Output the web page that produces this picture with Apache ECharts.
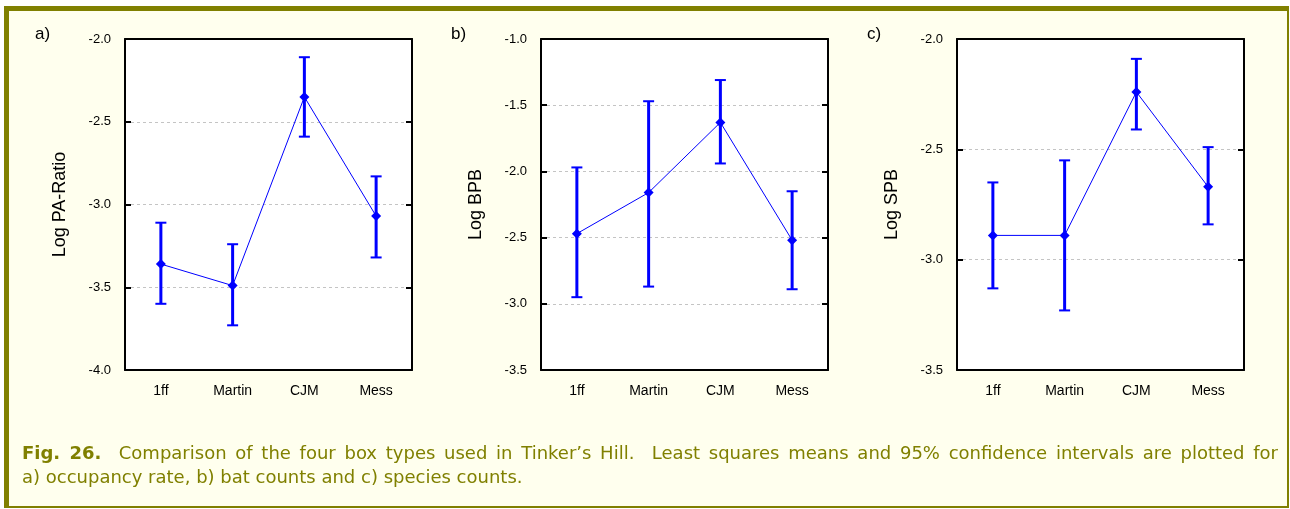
<!DOCTYPE html>
<html>
<head>
<meta charset="utf-8">
<script src="https://cdn.jsdelivr.net/npm/echarts@6/dist/echarts.min.js"></script>
<style>
  html, body { margin: 0; padding: 0; background: #fff; }
  #container { position: absolute; left: 0; top: 0; width: 1290px; height: 509px; }
  #caption {
    position: absolute; left: 22px; top: 441px; width: 1256px;
    font: 18px/24px "DejaVu Sans", Verdana, sans-serif; color: #808000;
    z-index: 2;
  }
  #caption .l1 { text-align: justify; text-align-last: justify; white-space: nowrap; }
  #caption .l1 { white-space: normal; }
  #caption b { font-weight: bold; }
</style>
</head>
<body>
<div id="container"></div>
<div id="caption">
  <div class="l1"><b>Fig. 26.</b>&nbsp; Comparison of the four box types used in Tinker’s Hill.&nbsp; Least squares means and 95% confidence intervals are plotted for</div>
  <div>a) occupancy rate, b) bat counts and c) species counts.</div>
</div>
<script>
// box types on the x axis
var cats = ['1ff', 'Martin', 'CJM', 'Mess'];

// a) occupancy rate
var aMean = [-3.36, -3.49, -2.35, -3.07];
var aLow  = [-3.60, -3.73, -2.59, -3.32];
var aHigh = [-3.11, -3.24, -2.11, -2.83];

// b) bat counts
var bMean = [-2.47, -2.16, -1.63, -2.52];
var bLow  = [-2.95, -2.87, -1.94, -2.89];
var bHigh = [-1.97, -1.47, -1.31, -2.15];

// c) species counts
var cMean = [-2.89, -2.89, -2.24, -2.67];
var cLow  = [-3.13, -3.23, -2.41, -2.84];
var cHigh = [-2.65, -2.55, -2.09, -2.49];

var panelNames = ['Log PA-Ratio', 'Log BPB', 'Log SPB'];
var panelTags = ['a)', 'b)', 'c)'];
var yMins = [-4.0, -3.5, -3.5];
var yMaxs = [-2.0, -1.0, -2.0];

var dom = document.getElementById('container');
var myChart = echarts.init(dom);

var FONT = '"Liberation Sans", Arial, sans-serif';
var BLUE = '#0000ff';
var OLIVE = '#808000';

var lefts = [125, 541, 957];

function errData(low, high) {
    return low.map(function (v, i) { return [i, v, high[i]]; });
}

// vertical 95% CI bar with caps
function renderErr(params, api) {
    var x = api.value(0);
    var lo = api.coord([x, api.value(1)]);
    var hi = api.coord([x, api.value(2)]);
    var cap = 5.5;
    var st = { stroke: BLUE, lineWidth: 2 };
    return {
        type: 'group',
        children: [
            { type: 'line', shape: { x1: lo[0], y1: lo[1], x2: hi[0], y2: hi[1] }, style: { stroke: BLUE, lineWidth: 3 } },
            { type: 'line', shape: { x1: lo[0] - cap, y1: lo[1], x2: lo[0] + cap, y2: lo[1] }, style: st },
            { type: 'line', shape: { x1: hi[0] - cap, y1: hi[1], x2: hi[0] + cap, y2: hi[1] }, style: st }
        ]
    };
}

var grids = [], xAxes = [], yAxes = [], series = [];
var means = [aMean, bMean, cMean];
var lows = [aLow, bLow, cLow];
var highs = [aHigh, bHigh, cHigh];

for (var p = 0; p < 3; p++) {
    grids.push({
        left: lefts[p], width: 287, top: 39, height: 331,
        show: true, backgroundColor: '#fff', borderWidth: 0
    });
    // bottom axis
    xAxes.push({
        type: 'category', data: cats, gridIndex: p, position: 'bottom',
        boundaryGap: true,
        axisLine: { lineStyle: { color: '#000', width: 2 } },
        axisTick: { inside: true, length: 5, alignWithLabel: true, lineStyle: { color: '#000', width: 2 } },
        axisLabel: { color: '#000', fontSize: 14, fontFamily: FONT, margin: 14 },
        splitLine: { show: false }
    });
    // top mirror
    xAxes.push({
        type: 'category', data: cats, gridIndex: p, position: 'top',
        boundaryGap: true,
        axisLine: { lineStyle: { color: '#000', width: 2 } },
        axisTick: { inside: true, length: 5, alignWithLabel: true, lineStyle: { color: '#000', width: 2 } },
        axisLabel: { show: false },
        splitLine: { show: false }
    });
    yAxes.push({
        type: 'value', gridIndex: p, position: 'left',
        min: yMins[p], max: yMaxs[p], interval: 0.5,
        name: panelNames[p], nameLocation: 'middle', nameGap: 56,
        nameTextStyle: { color: '#000', fontSize: 18, fontFamily: FONT },
        axisLine: { show: true, lineStyle: { color: '#000', width: 2 } },
        axisTick: { show: true, inside: true, length: 6, lineStyle: { color: '#000', width: 2 } },
        axisLabel: {
            color: '#000', fontSize: 13, fontFamily: FONT, margin: 14,
            formatter: function (v) { return v.toFixed(1); }
        },
        splitLine: { show: true, lineStyle: { color: '#c4c4c4', width: 1, type: [3, 3] } }
    });
    // right mirror
    yAxes.push({
        type: 'value', gridIndex: p, position: 'right',
        min: yMins[p], max: yMaxs[p], interval: 0.5,
        axisLine: { show: true, lineStyle: { color: '#000', width: 2 } },
        axisTick: { show: true, inside: true, length: 6, lineStyle: { color: '#000', width: 2 } },
        axisLabel: { show: false },
        splitLine: { show: false }
    });
    series.push({
        type: 'custom',
        xAxisIndex: p * 2, yAxisIndex: p * 2,
        renderItem: renderErr,
        encode: { x: 0, y: [1, 2] },
        data: errData(lows[p], highs[p]),
        z: 3
    });
    series.push({
        type: 'line',
        xAxisIndex: p * 2, yAxisIndex: p * 2,
        data: means[p],
        symbol: 'diamond', symbolSize: 10,
        itemStyle: { color: BLUE },
        lineStyle: { color: BLUE, width: 1 },
        z: 4
    });
}

var graphics = [
    { type: 'rect', shape: { x: 4, y: 6, width: 1285, height: 502 }, style: { fill: '#ffffee' }, z: -10 },
    { type: 'rect', shape: { x: 4, y: 6, width: 1285, height: 5 }, style: { fill: OLIVE }, z: -9 },
    { type: 'rect', shape: { x: 4, y: 6, width: 5, height: 502 }, style: { fill: OLIVE }, z: -9 },
    { type: 'rect', shape: { x: 1287, y: 6, width: 2, height: 502 }, style: { fill: OLIVE }, z: -9 },
    { type: 'rect', shape: { x: 4, y: 506, width: 1285, height: 2 }, style: { fill: OLIVE }, z: -9 }
];
var tagX = [35, 451, 867];
for (var t = 0; t < 3; t++) {
    graphics.push({
        type: 'text', left: tagX[t], top: 26,
        style: { text: panelTags[t], fill: '#000', font: '17px ' + FONT }
    });
}

var option = {
    backgroundColor: '#fff',
    animation: false,
    grid: grids,
    xAxis: xAxes,
    yAxis: yAxes,
    series: series,
    graphic: graphics
};
myChart.setOption(option);
</script>
</body>
</html>
